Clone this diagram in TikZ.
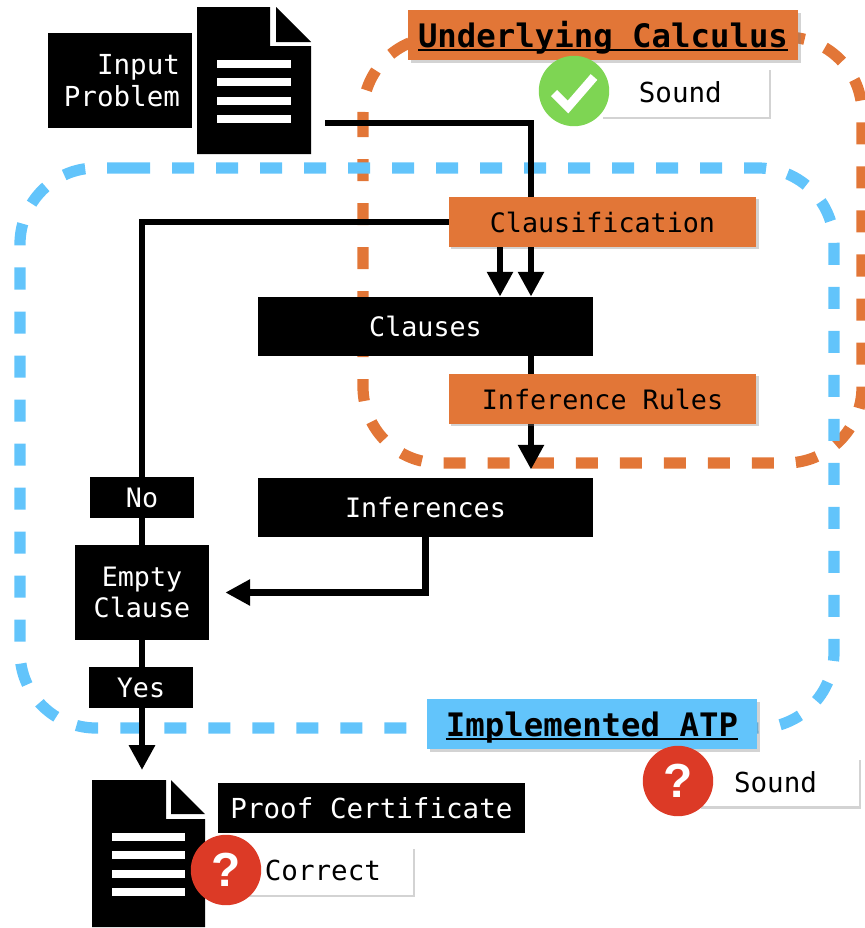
\documentclass[tikz,border=0pt]{standalone}
\usepackage{fontspec}
\setmonofont{DejaVu Sans Mono}
\setsansfont{Liberation Sans}
\usetikzlibrary{arrows.meta,shadows}
\definecolor{calcorange}{HTML}{E27637}
\definecolor{atpblue}{HTML}{62C4FB}
\definecolor{okgreen}{HTML}{7ED553}
\definecolor{askred}{HTML}{DC3A26}
\newcommand{\titleline}[1]{\setbox0\hbox{#1}\rlap{\rule[-0.1cm]{\wd0}{0.06cm}}\box0}
\newcommand{\bigmono}{\ttfamily\fontsize{19.6}{22.5}\selectfont}
\tikzset{
	wire/.style={line width=0.16cm,black},
	arrowwire/.style={wire,-{Triangle[length=0.62cm,width=0.62cm]}},
	blackbox/.style={fill=black,text=white,font=\ttfamily\fontsize{19}{22.5}\selectfont,align=center,inner sep=0pt},
	orangebox/.style={fill=calcorange,text=black,font=\ttfamily\fontsize{19}{22.5}\selectfont,inner sep=0pt,
		drop shadow={shadow xshift=0.06cm,shadow yshift=-0.06cm,opacity=0.35}},
	whitebox/.style={fill=white,text=black,font=\bigmono,inner sep=0pt,
		drop shadow={shadow xshift=0.06cm,shadow yshift=-0.06cm,opacity=0.35}},
	titlebox/.style={text=black,font=\ttfamily\bfseries\fontsize{23}{28}\selectfont,inner sep=0pt,text height=0.6cm,text depth=0pt,
		drop shadow={shadow xshift=0.08cm,shadow yshift=-0.08cm,opacity=0.35}},
	badge/.style={circle,minimum size=1.76cm,inner sep=0pt,text=white,font=\sffamily\bfseries\fontsize{34}{34}\selectfont},
	region/.style={line width=0.28cm,dash pattern=on 0.55cm off 0.55cm,rounded corners=1.9cm},
	docline/.style={fill=white}
}
\begin{document}
\begin{tikzpicture}[x=0.025cm,y=-0.025cm]
	\useasboundingbox (0,0) rectangle (865,928);
	% dashed regions
	\draw[region,calcorange] (363,115) -- (363,463) -- (862,463) -- (862,37) -- (363,37) -- (363,115);
	\draw[region,atpblue] (128,168) -- (834,168) -- (834,728) -- (20,728) -- (20,168) -- (128,168);
	% input document
	\fill (197,7) -- (270,7) -- (270,46) -- (311,46) -- (311,154) -- (197,154) -- cycle;
	\fill (276,7) -- (311,42) -- (276,42) -- cycle;
	\foreach \y in {60,78,97,115} \fill[docline] (217,\y) rectangle (291,\y+8);
	\node[blackbox,font=\bigmono,minimum width=3.6cm,minimum height=2.38cm,align=right,text width=3cm] (input) at (120,80.5) {Input\\Problem};
	\coordinate (inputout) at (325,123);
	\coordinate (fork) at (531,197);
	\coordinate (fork2) at (500,197);
	% certificate document
	\fill (92,780) -- (166,780) -- (166,819) -- (205,819) -- (205,927) -- (92,927) -- cycle;
	\fill (171,780) -- (205,814) -- (171,814) -- cycle;
	\foreach \y in {833,851,870,888} \fill[docline] (112,\y) rectangle (185,\y+8);
	\coordinate (certin) at (142,770);
	% boxes
	\node[orangebox,minimum width=7.68cm,minimum height=1.25cm] (clausif) at (602.5,222) {Clausification};
	\node[blackbox,minimum width=8.38cm,minimum height=1.48cm] (clauses) at (425.5,326.5) {Clauses};
	\node[blackbox,minimum width=8.38cm,minimum height=1.48cm] (inferences) at (425.5,507.5) {Inferences};
	\node[blackbox,minimum width=3.35cm,minimum height=2.38cm] (emptyc) at (142,592.5) {Empty\\Clause};
	% connectors
	\draw[wire] (inputout) -| (fork);
	\draw[wire] (clausif.west) -| (emptyc.north);
	\draw[arrowwire] (fork2 |- clausif.south) -- (fork2 |- clauses.north);
	\draw[arrowwire] (fork |- clausif.south) -- (fork |- clauses.north);
	\draw[arrowwire,shorten >=0.2cm] (fork |- clauses.south) -- (fork |- inferences.north);
	\draw[arrowwire,shorten >=0.4cm] (inferences.south) |- (emptyc.east);
	\draw[arrowwire] (emptyc.south) -- (certin);
	\node[orangebox,minimum width=7.68cm,minimum height=1.25cm] (rules) at (602.5,399) {Inference Rules};
	\node[blackbox,minimum width=2.6cm,minimum height=1.03cm] (no) at (142,497.5) {No};
	\node[blackbox,minimum width=2.6cm,minimum height=1.03cm] (yes) at (141,687.5) {Yes};
	\node[blackbox,font=\bigmono,minimum width=7.68cm,minimum height=1.25cm] (cert) at (371.5,808) {Proof Certificate};
	% titles
	\node[titlebox,fill=calcorange,minimum width=9.75cm,minimum height=1.25cm] (calculus) at (603,35) {\titleline{Underlying Calculus}};
	\node[titlebox,fill=atpblue,minimum width=8.25cm,minimum height=1.25cm] (atp) at (592,724) {\titleline{Implemented ATP}};
	% verdicts
	\node[whitebox,minimum width=4.2cm,minimum height=1.22cm,text width=3.2cm,align=right] (soundcalc) at (685,92.5) {Sound\hspace*{0.68cm}};
	\node[badge,fill=okgreen] (okbadge) at (574,91) {};
	\draw[white,line width=0.22cm] (okbadge.center) ++(-20,2) -- ++(14,14) -- ++(26,-30);
	\node[whitebox,minimum width=4cm,minimum height=1.22cm,text width=3.6cm,align=right] (soundatp) at (779,782) {Sound\hspace*{0.85cm}};
	\node[badge,fill=askred] (askatp) at (678,781) {?};
	\node[whitebox,minimum width=4.3cm,minimum height=1.22cm,text width=3.8cm,align=right] (correct) at (327,870.5) {Correct\hspace*{0.55cm}};
	\node[badge,fill=askred] (askcert) at (226,870) {?};
\end{tikzpicture}
\end{document}
